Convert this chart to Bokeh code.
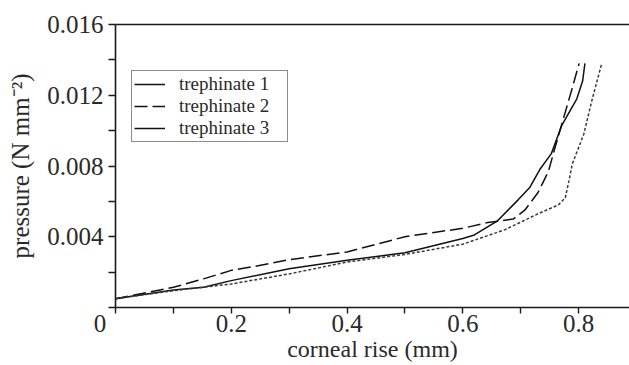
from bokeh.plotting import figure
from bokeh.models import Range1d, FixedTicker, LinearAxis, Legend, LegendItem
from bokeh.embed import file_html
from bokeh.resources import INLINE

# ---- data ----
t1_x = [0, 0.1, 0.152, 0.2, 0.3, 0.4, 0.5, 0.6, 0.62, 0.66, 0.696, 0.716, 0.733, 0.753, 0.771, 0.797, 0.807, 0.811]
t1_y = [0.0005, 0.00099, 0.00114, 0.00152, 0.00219, 0.00267, 0.00309, 0.0039, 0.0041, 0.0049, 0.0061, 0.0068, 0.0078, 0.0087, 0.0103, 0.0118, 0.0128, 0.0138]

t2_x = [0, 0.1, 0.152, 0.2, 0.24, 0.3, 0.4, 0.5, 0.6, 0.643, 0.687, 0.707, 0.73, 0.748, 0.759, 0.774, 0.789, 0.801]
t2_y = [0.0005, 0.00114, 0.00162, 0.0021, 0.00232, 0.0027, 0.00314, 0.004, 0.00448, 0.0048, 0.005, 0.0055, 0.0065, 0.0077, 0.009, 0.0107, 0.0124, 0.0138]

t3_x = [0, 0.1, 0.2, 0.3, 0.4, 0.5, 0.6, 0.673, 0.73, 0.765, 0.777, 0.783, 0.789, 0.809, 0.823, 0.84]
t3_y = [0.0005, 0.00095, 0.00133, 0.0019, 0.00257, 0.003, 0.00358, 0.0044, 0.0053, 0.0058, 0.0062, 0.0071, 0.0081, 0.0098, 0.0117, 0.0138]

series_labels = ["trephinate 1", "trephinate 2", "trephinate 3"]
x_ticks = [0, 0.2, 0.4, 0.6, 0.8]
x_minor = [0.1, 0.3, 0.5, 0.7]
y_ticks = [0, 0.004, 0.008, 0.012, 0.016]
y_minor = [0.002, 0.006, 0.010, 0.014]
x_title = "corneal rise (mm)"
y_title = "pressure (N mm\u207b\u00b2)"

FONT = "Liberation Serif"
TXT = "#2a2a2a"
AX = "#1a1a1a"

p = figure(width=629, height=365, output_backend="svg", toolbar_location=None,
           x_range=Range1d(0, 0.888), y_range=Range1d(0, 0.016),
           min_border_left=115, min_border_right=0, min_border_top=24, min_border_bottom=58,
           x_axis_location=None, y_axis_location=None)
p.outline_line_color = None
p.grid.visible = False
p.background_fill_color = "white"
p.border_fill_color = "white"

def style_axis(ax):
    ax.axis_line_color = AX
    ax.axis_line_width = 1.6
    ax.major_tick_line_color = AX
    ax.major_tick_line_width = 1.4
    ax.minor_tick_line_color = AX
    ax.minor_tick_line_width = 1.4
    ax.major_tick_in = 0
    ax.minor_tick_in = 0
    ax.major_label_text_font = FONT
    ax.major_label_text_color = TXT
    ax.axis_label_text_font = FONT
    ax.axis_label_text_font_style = "normal"
    ax.axis_label_text_color = TXT

xa = LinearAxis(ticker=FixedTicker(ticks=x_ticks, minor_ticks=x_minor))
style_axis(xa)
xa.major_label_text_font_size = "25px"
xa.major_tick_out = 6
xa.minor_tick_out = 6
xa.major_label_standoff = -4
xa.major_label_overrides = {0: "0" + "\u00a0" * 5}
xa.axis_label = x_title
xa.axis_label_text_font_size = "24px"
xa.axis_label_standoff = -4
p.add_layout(xa, "below")

ya = LinearAxis(ticker=FixedTicker(ticks=y_ticks, minor_ticks=y_minor))
style_axis(ya)
ya.major_label_text_font_size = "25px"
ya.major_tick_out = 7
ya.minor_tick_out = 7
ya.major_label_standoff = 5
ya.major_label_overrides = {0: ""}
ya.axis_label = y_title
ya.axis_label_text_font_size = "25px"
ya.axis_label_standoff = 10
p.add_layout(ya, "left")

top = LinearAxis(ticker=FixedTicker(ticks=[]))
top.axis_line_color = AX
top.axis_line_width = 1.6
top.major_label_text_font_size = "0px"
top.major_tick_line_color = None
top.minor_tick_line_color = None
p.add_layout(top, "above")

r1 = p.line(t1_x, t1_y, line_color="#111111", line_width=1.5)
r2 = p.line(t2_x, t2_y, line_color="#111111", line_width=1.5, line_dash="13 5")
r3 = p.line(t3_x, t3_y, line_color="#3a3a3a", line_width=1.5, line_dash="3 2")

legend = Legend(items=[LegendItem(label=series_labels[0], renderers=[r1]),
                       LegendItem(label=series_labels[1], renderers=[r2]),
                       LegendItem(label=series_labels[2], renderers=[r1])],
                location=(16, 165))
legend.border_line_color = AX
legend.border_line_width = 1.5
legend.background_fill_color = "white"
legend.background_fill_alpha = 1
legend.label_text_font = FONT
legend.label_text_font_size = "19px"
legend.label_text_color = TXT
legend.glyph_width = 31
legend.glyph_height = 20
legend.label_height = 20
legend.label_width = 106
legend.label_standoff = 14
legend.spacing = 0
legend.padding = 2
legend.margin = 0
p.add_layout(legend, "center")

open("out.html", "w").write(file_html(p, INLINE))
